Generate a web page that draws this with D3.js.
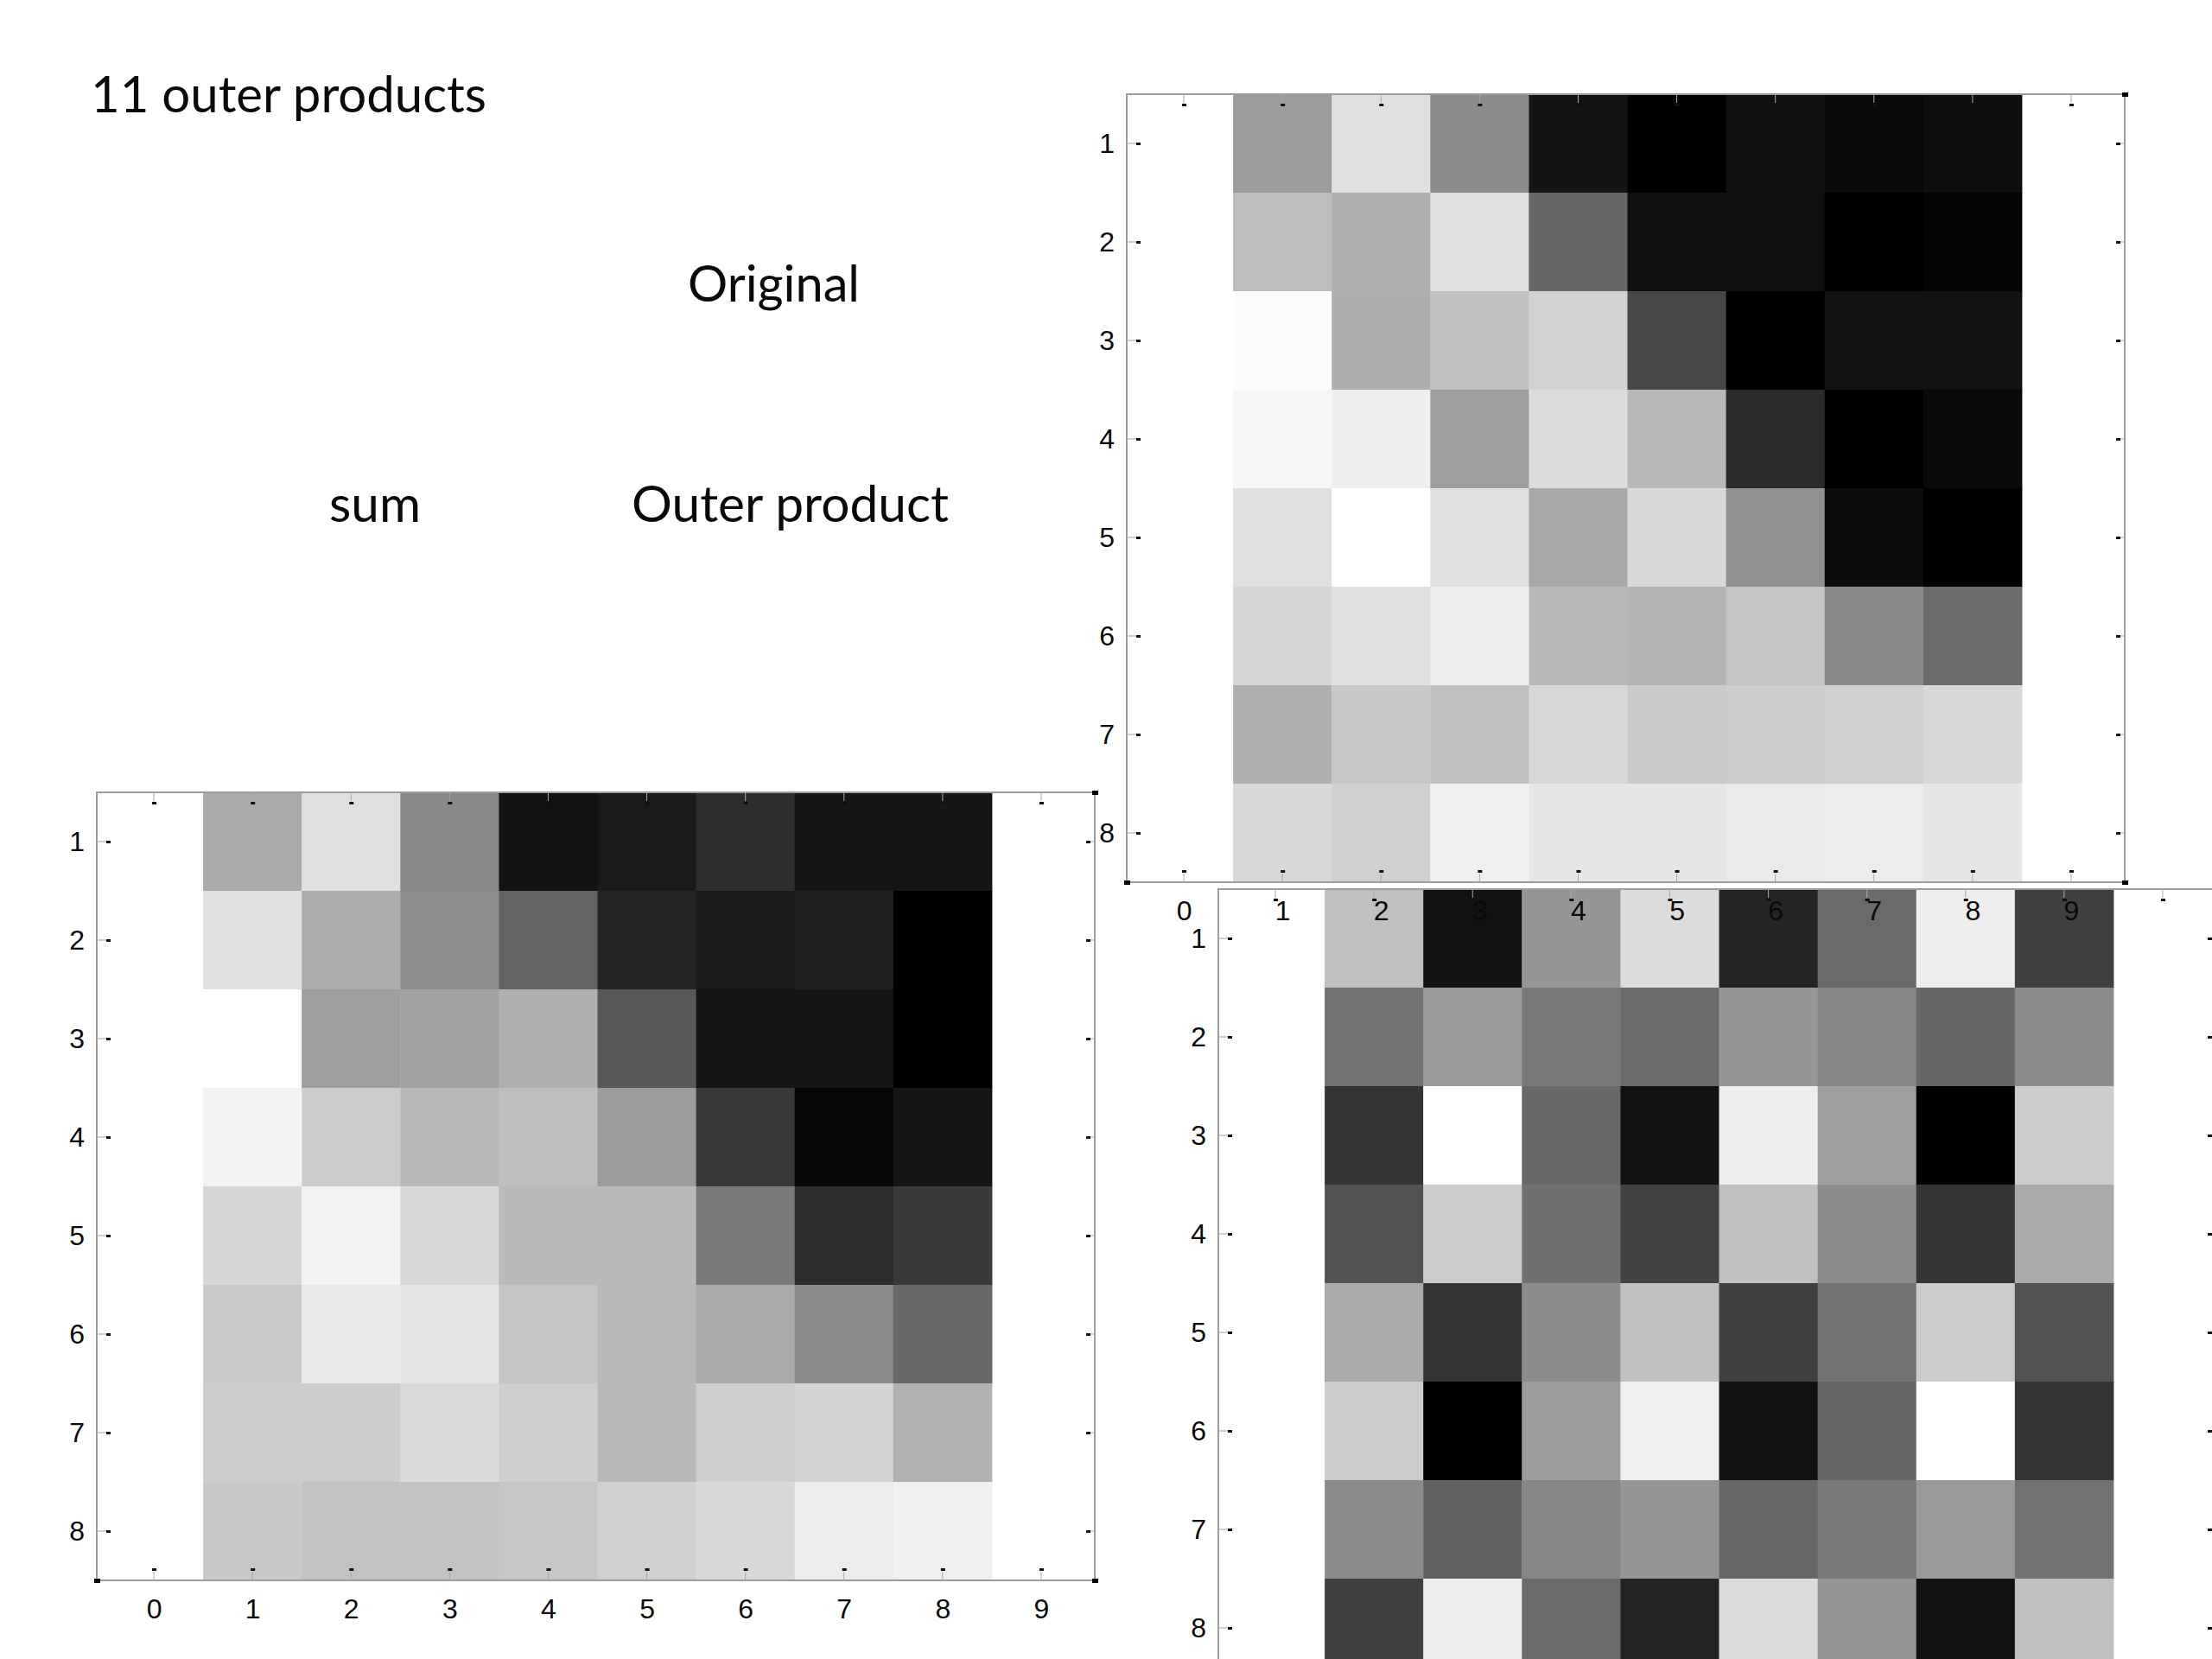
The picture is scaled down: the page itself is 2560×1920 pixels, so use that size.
<!DOCTYPE html>
<html>
<head>
<meta charset="utf-8">
<script src="https://cdn.jsdelivr.net/npm/d3@7"></script>
<style>
  body { margin: 0; background: #fff; }
  .slide { font-family: Lato, "Open Sans", sans-serif; font-size: 58px; fill: #0a0a0a; }
</style>
</head>
<body>
<svg id="chart"></svg>
<script>
// tick values and cell indices
var xTicks = [0, 1, 2, 3, 4, 5, 6, 7, 8, 9];
var yTicks = [1, 2, 3, 4, 5, 6, 7, 8];
var cols = [1, 2, 3, 4, 5, 6, 7, 8];
var rows = [1, 2, 3, 4, 5, 6, 7, 8];

var originalGray = [
  [156, 224, 140,  20,   0,  16,  10,  14],
  [189, 176, 224, 102,  16,  16,   0,   4],
  [252, 174, 192, 210,  72,   0,  18,  18],
  [246, 238, 158, 220, 184,  42,   0,  10],
  [224, 255, 226, 168, 216, 144,  12,   0],
  [214, 224, 238, 184, 180, 196, 138, 106],
  [176, 200, 192, 216, 202, 204, 208, 216],
  [216, 208, 240, 230, 230, 234, 236, 230]
];
var sumGray = [
  [170, 224, 138,  18,  26,  46,  22,  22],
  [224, 172, 142, 100,  36,  26,  32,   0],
  [255, 158, 162, 176,  88,  22,  22,   0],
  [242, 204, 184, 190, 156,  56,   6,  22],
  [214, 242, 216, 186, 186, 122,  44,  58],
  [202, 232, 228, 196, 184, 170, 140, 104],
  [204, 204, 218, 206, 184, 206, 212, 178],
  [200, 194, 194, 198, 208, 216, 236, 240]
];
var outerGray = [
  [192,  18, 150, 220,  36, 106, 238,  64],
  [114, 154, 120, 106, 150, 134, 102, 140],
  [ 52, 255, 104,  18, 238, 158,   0, 204],
  [ 82, 204, 112,  66, 192, 140,  52, 170],
  [170,  52, 140, 192,  64, 114, 204,  82],
  [204,   0, 156, 240,  18, 102, 255,  52],
  [140,  98, 134, 150, 104, 120, 154, 114],
  [ 64, 238, 106,  36, 220, 150,  18, 192]
];

var svg = d3.select("#chart").attr("width", 2560).attr("height", 1920);
var grey = d3.scaleLinear().domain([0, 255]).range(["#000000", "#ffffff"]);

function panel(grid, left, top, xLabels) {
  var g = svg.append("g");
  var x = d3.scaleLinear().domain([-0.5, 9.5]).range([left, left + 1141]);
  var y = d3.scaleLinear().domain([0.5, 8.5]).range([top, top + 912]);
  var fl = x(-0.5) - 9, fr = x(9.5) + 5, ft = y(0.5), fb = y(8.5);

  var cells = [];
  rows.forEach(function(r, i) {
    cols.forEach(function(c, j) { cells.push({r: r, c: c, v: grid[i][j]}); });
  });
  g.selectAll("rect.cell").data(cells).enter().append("rect")
    .attr("class", "cell")
    .attr("x", function(d) { return x(d.c - 0.5); })
    .attr("y", function(d) { return y(d.r - 0.5); })
    .attr("width", function(d) { return x(d.c + 0.5) - x(d.c - 0.5) + 0.5; })
    .attr("height", function(d) { return y(d.r + 0.5) - y(d.r - 0.5) + 0.5; })
    .attr("fill", function(d) { return grey(d.v); });

  g.append("rect")
    .attr("x", fl).attr("y", ft).attr("width", fr - fl).attr("height", fb - ft)
    .attr("fill", "none").attr("stroke", "#9c9c9c").attr("stroke-width", 2);

  // little inward ticks: grey stem + black dot
  var stem = "#a8a8a8";
  xTicks.forEach(function(t) {
    var px = x(t);
    g.append("line").attr("x1", px).attr("x2", px).attr("y1", ft).attr("y2", ft + 10).attr("stroke", stem);
    g.append("rect").attr("x", px - 2).attr("y", ft + 11).attr("width", 5).attr("height", 3).attr("fill", "#111");
    g.append("line").attr("x1", px).attr("x2", px).attr("y1", fb).attr("y2", fb - 10).attr("stroke", stem);
    g.append("rect").attr("x", px - 2).attr("y", fb - 14).attr("width", 5).attr("height", 3).attr("fill", "#111");
  });
  yTicks.forEach(function(t) {
    var py = y(t);
    g.append("line").attr("x1", fl).attr("x2", fl + 11).attr("y1", py).attr("y2", py).attr("stroke", stem);
    g.append("rect").attr("x", fl + 11).attr("y", py - 1).attr("width", 5).attr("height", 3).attr("fill", "#111");
    g.append("line").attr("x1", fr).attr("x2", fr - 6).attr("y1", py).attr("y2", py).attr("stroke", stem);
    g.append("rect").attr("x", fr - 10).attr("y", py - 1).attr("width", 5).attr("height", 3).attr("fill", "#111");
  });
  [[fl, fb], [fr, fb], [fr, ft]].forEach(function(p) {
    g.append("rect").attr("x", p[0] - 3).attr("y", p[1] - 2).attr("width", 7).attr("height", 5).attr("fill", "#000");
  });

  var yAx = g.append("g").attr("transform", "translate(" + fl + ",0)")
    .call(d3.axisLeft(y).tickValues(yTicks).tickSize(0).tickPadding(14));
  styleAxis(yAx);
  if (xLabels) {
    var xAx = g.append("g").attr("transform", "translate(0," + fb + ")")
      .call(d3.axisBottom(x).tickValues(xTicks).tickSize(0).tickPadding(21));
    styleAxis(xAx);
  }
  return g;
}

function styleAxis(a) {
  a.select(".domain").remove();
  a.attr("font-size", 32).attr("font-family", "'Liberation Sans', Arial, sans-serif")
    .attr("color", "#0a0a0a");
}

panel(sumGray, 121, 917, true);
// the outer product's own x labels fall below the visible area
panel(outerGray, 1419, 1029, false);
panel(originalGray, 1313, 109, true);

var texts = [
  {t: "11 outer products", x: 105, y: 130, w: 458},
  {t: "Original", x: 796, y: 349, w: 199},
  {t: "sum", x: 381, y: 604, w: 106},
  {t: "Outer product", x: 731, y: 604, w: 367}
];
svg.selectAll("text.slide").data(texts).enter().append("text")
  .attr("class", "slide")
  .attr("x", function(d) { return d.x; })
  .attr("y", function(d) { return d.y; })
  .attr("textLength", function(d) { return d.w; })
  .attr("lengthAdjust", "spacingAndGlyphs")
  .text(function(d) { return d.t; });
</script>
</body>
</html>
